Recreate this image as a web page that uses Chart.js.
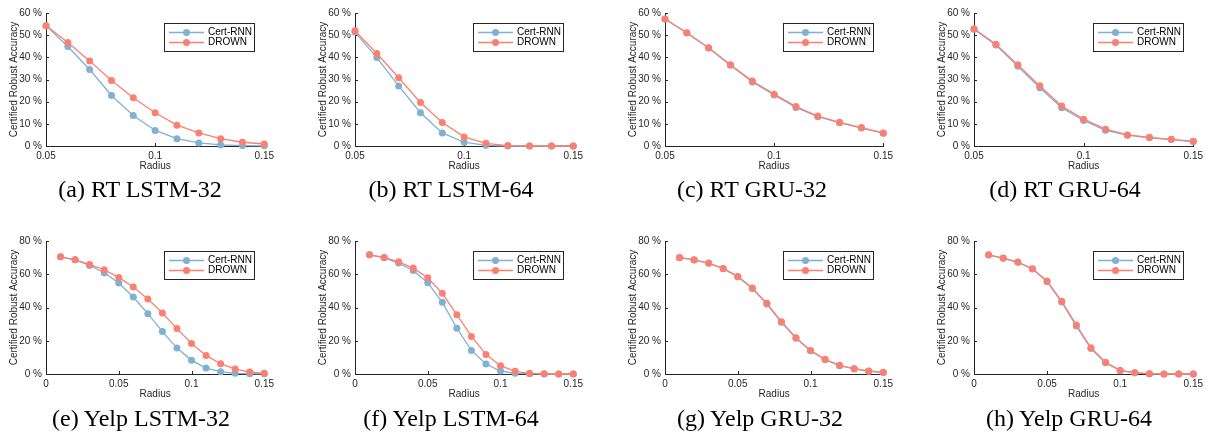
<!DOCTYPE html>
<html>
<head>
<meta charset="utf-8">
<script src="https://cdn.jsdelivr.net/npm/chart.js"></script>
<style>
  body { margin: 0; background: #fff; width: 1207px; height: 435px; position: relative; overflow: hidden; }
  canvas { position: absolute; }
  .cap { position: absolute; font-family: "Liberation Serif", "Times New Roman", serif; font-size: 24px; line-height: 24px; color: #000; white-space: nowrap; transform: translateX(-50%); }
</style>
</head>
<body>
<script>
// radius values (x)
const radiusRT = [0.05, 0.06, 0.07, 0.08, 0.09, 0.10, 0.11, 0.12, 0.13, 0.14, 0.15];
const radiusYelp = [0.01, 0.02, 0.03, 0.04, 0.05, 0.06, 0.07, 0.08, 0.09, 0.10, 0.11, 0.12, 0.13, 0.14, 0.15];

// certified robust accuracy (%)
const certRtLstm32  = [54.3, 44.9, 34.5, 22.8, 13.8, 7.0, 3.3, 1.4, 0.5, 0.2, 0.1];
const drownRtLstm32 = [54.3, 46.7, 38.4, 29.6, 21.8, 15.0, 9.4, 5.9, 3.3, 1.7, 0.9];
const certRtLstm64  = [51.4, 39.9, 27.1, 15.0, 5.9, 1.7, 0.3, 0.0, 0.0, 0.0, 0.0];
const drownRtLstm64 = [52.0, 41.7, 30.8, 19.6, 10.6, 4.1, 1.2, 0.2, 0.0, 0.0, 0.0];
const certRtGru32   = [57.3, 51.0, 44.2, 36.4, 28.9, 23.0, 17.4, 13.2, 10.5, 8.1, 5.8];
const drownRtGru32  = [57.3, 51.1, 44.3, 36.6, 29.3, 23.4, 17.8, 13.5, 10.7, 8.3, 5.9];
const certRtGru64   = [52.7, 45.6, 36.0, 26.3, 17.3, 11.5, 7.1, 4.9, 3.7, 2.9, 2.0];
const drownRtGru64  = [52.9, 45.9, 36.6, 27.2, 18.0, 12.1, 7.6, 5.0, 3.9, 3.0, 2.1];

const certYelpLstm32  = [70.5, 68.7, 65.3, 60.9, 54.7, 46.3, 36.3, 25.5, 15.6, 8.2, 3.6, 1.4, 0.4, 0.2, 0.1];
const drownYelpLstm32 = [70.5, 68.7, 65.9, 62.7, 58.1, 52.3, 45.1, 36.7, 27.3, 18.4, 11.2, 6.2, 3.0, 1.2, 0.4];
const certYelpLstm64  = [71.7, 69.9, 66.7, 62.3, 54.9, 43.1, 27.5, 14.2, 6.0, 1.8, 0.4, 0.2, 0.0, 0.0, 0.0];
const drownYelpLstm64 = [71.7, 70.1, 67.5, 63.7, 57.9, 48.5, 35.7, 22.6, 11.8, 5.0, 1.6, 0.4, 0.1, 0.0, 0.0];
const certYelpGru32   = [70.0, 68.6, 66.6, 63.3, 58.5, 51.4, 42.1, 31.1, 21.5, 14.0, 8.6, 5.0, 3.1, 1.7, 0.9];
const drownYelpGru32  = [70.1, 68.7, 66.7, 63.5, 58.7, 51.7, 42.5, 31.5, 21.8, 14.2, 8.8, 5.2, 3.2, 1.8, 1.0];
const certYelpGru64   = [71.6, 69.6, 67.2, 63.1, 55.5, 43.3, 28.8, 15.3, 6.8, 2.0, 0.7, 0.1, 0.0, 0.0, 0.0];
const drownYelpGru64  = [71.7, 69.7, 67.3, 63.3, 55.9, 43.7, 29.5, 15.8, 7.0, 2.2, 0.8, 0.2, 0.0, 0.0, 0.0];

const xTicksRT = [0.05, 0.1, 0.15];
const xTicksYelp = [0, 0.05, 0.1, 0.15];

const seriesNames = ['Cert-RNN', 'DROWN'];
const blue = '#80b1d3';
const red = '#fb8072';
const axisColor = '#262626';
const font = { family: 'Liberation Sans, Arial, Helvetica, sans-serif', size: 10 };

const panels = [
  { caption: '(a) RT LSTM-32', x: radiusRT, cert: certRtLstm32, drown: drownRtLstm32, xmin: 0.05, ymax: 60, step: 10, ticks: xTicksRT, L: 46, R: 265, T: 13, B: 146, capX: 140, capY: 177 },
  { caption: '(b) RT LSTM-64', x: radiusRT, cert: certRtLstm64, drown: drownRtLstm64, xmin: 0.05, ymax: 60, step: 10, ticks: xTicksRT, L: 355, R: 574, T: 13, B: 146, capX: 451, capY: 177 },
  { caption: '(c) RT GRU-32', x: radiusRT, cert: certRtGru32, drown: drownRtGru32, xmin: 0.05, ymax: 60, step: 10, ticks: xTicksRT, L: 665, R: 884, T: 13, B: 146, capX: 752, capY: 177 },
  { caption: '(d) RT GRU-64', x: radiusRT, cert: certRtGru64, drown: drownRtGru64, xmin: 0.05, ymax: 60, step: 10, ticks: xTicksRT, L: 974, R: 1194, T: 13, B: 146, capX: 1065, capY: 177 },
  { caption: '(e) Yelp LSTM-32', x: radiusYelp, cert: certYelpLstm32, drown: drownYelpLstm32, xmin: 0, ymax: 80, step: 20, ticks: xTicksYelp, L: 46, R: 265, T: 241, B: 374, capX: 141, capY: 406 },
  { caption: '(f) Yelp LSTM-64', x: radiusYelp, cert: certYelpLstm64, drown: drownYelpLstm64, xmin: 0, ymax: 80, step: 20, ticks: xTicksYelp, L: 355, R: 574, T: 241, B: 374, capX: 451, capY: 406 },
  { caption: '(g) Yelp GRU-32', x: radiusYelp, cert: certYelpGru32, drown: drownYelpGru32, xmin: 0, ymax: 80, step: 20, ticks: xTicksYelp, L: 665, R: 884, T: 241, B: 374, capX: 760, capY: 406 },
  { caption: '(h) Yelp GRU-64', x: radiusYelp, cert: certYelpGru64, drown: drownYelpGru64, xmin: 0, ymax: 80, step: 20, ticks: xTicksYelp, L: 974, R: 1194, T: 241, B: 374, capX: 1069, capY: 406 }
];

// inward tick marks + boxed legend like MATLAB
const matlabAxes = {
  id: 'matlabAxes',
  beforeDatasetsDraw(chart) {
    const { ctx, chartArea: a, scales: { x, y } } = chart;
    ctx.save();
    ctx.strokeStyle = axisColor;
    ctx.lineWidth = 1;
    ctx.beginPath();
    y.ticks.forEach(t => {
      const py = Math.round(y.getPixelForValue(t.value)) + 0.5;
      ctx.moveTo(a.left, py);
      ctx.lineTo(a.left + 3, py);
    });
    x.ticks.forEach(t => {
      const px = Math.round(x.getPixelForValue(t.value)) + 0.5;
      ctx.moveTo(px, a.bottom);
      ctx.lineTo(px, a.bottom - 3);
    });
    ctx.stroke();
    ctx.restore();
  },
  afterDraw(chart) {
    const { ctx, chartArea: a } = chart;
    ctx.save();
    const bw = 90, bh = 28;
    const bx = Math.round(a.right - 10 - bw), by = Math.round(a.top + 10);
    ctx.fillStyle = '#fff';
    ctx.fillRect(bx, by, bw, bh);
    ctx.strokeStyle = axisColor;
    ctx.lineWidth = 1;
    ctx.strokeRect(bx + 0.5, by + 0.5, bw, bh);
    ctx.font = font.size + 'px ' + font.family;
    ctx.textBaseline = 'middle';
    chart.data.datasets.forEach((ds, i) => {
      const ly = by + 9.5 + i * 10;
      ctx.strokeStyle = ds.borderColor;
      ctx.lineWidth = 1.3;
      ctx.beginPath();
      ctx.moveTo(bx + 5, ly);
      ctx.lineTo(bx + 40, ly);
      ctx.stroke();
      ctx.fillStyle = ds.borderColor;
      ctx.beginPath();
      ctx.arc(bx + 22.5, ly, 3.5, 0, Math.PI * 2);
      ctx.fill();
      ctx.fillStyle = '#000';
      ctx.fillText(ds.label, bx + 44, ly);
    });
    ctx.restore();
  }
};

panels.forEach(p => {
  const padTop = 13, yAxisW = 45, xAxisH = 32, padRight = 13;
  const canvas = document.createElement('canvas');
  canvas.width = (p.R - p.L) + yAxisW + padRight;
  canvas.height = (p.B - p.T) + padTop + xAxisH;
  canvas.style.left = (p.L - yAxisW) + 'px';
  canvas.style.top = (p.T - padTop) + 'px';
  document.body.appendChild(canvas);

  const cap = document.createElement('div');
  cap.className = 'cap';
  cap.textContent = p.caption;
  cap.style.left = p.capX + 'px';
  cap.style.top = p.capY + 'px';
  document.body.appendChild(cap);

  const mk = (name, vals, color, order) => ({
    label: name,
    data: p.x.map((r, i) => ({ x: r, y: vals[i] })),
    borderColor: color,
    backgroundColor: color,
    borderWidth: 1.3,
    pointRadius: 3.5,
    pointBorderWidth: 0,
    pointBackgroundColor: color,
    tension: 0,
    clip: false,
    order: order
  });

  new Chart(canvas, {
    type: 'line',
    data: {
      datasets: [
        mk(seriesNames[0], p.cert, blue, 2),
        mk(seriesNames[1], p.drown, red, 1)
      ]
    },
    options: {
      responsive: false,
      animation: false,
      devicePixelRatio: 1,
      layout: { padding: { top: padTop, right: padRight, left: 0, bottom: 0 } },
      plugins: { legend: { display: false }, tooltip: { enabled: false } },
      scales: {
        x: {
          type: 'linear',
          min: p.xmin,
          max: 0.15,
          afterFit: s => { s.height = xAxisH; },
          afterBuildTicks: s => { s.ticks = p.ticks.map(v => ({ value: v })); },
          ticks: { padding: 4, color: axisColor, font: font, maxRotation: 0, autoSkip: false, callback: v => String(v) },
          grid: { display: true, drawOnChartArea: false, drawTicks: false },
          border: { color: axisColor, width: 1 },
          title: { display: true, text: 'Radius', color: axisColor, font: font, padding: { top: 0, bottom: 6 } }
        },
        y: {
          min: 0,
          max: p.ymax,
          afterFit: s => { s.width = yAxisW; },
          ticks: { stepSize: p.step, padding: 4, color: axisColor, font: font, callback: v => v + ' %' },
          grid: { display: true, drawOnChartArea: false, drawTicks: false },
          border: { color: axisColor, width: 1 },
          title: { display: true, text: 'Certified Robust Accuracy', color: axisColor, font: font, padding: { top: 7, bottom: 0 } }
        }
      }
    },
    plugins: [matlabAxes]
  });
});
</script>
</body>
</html>
